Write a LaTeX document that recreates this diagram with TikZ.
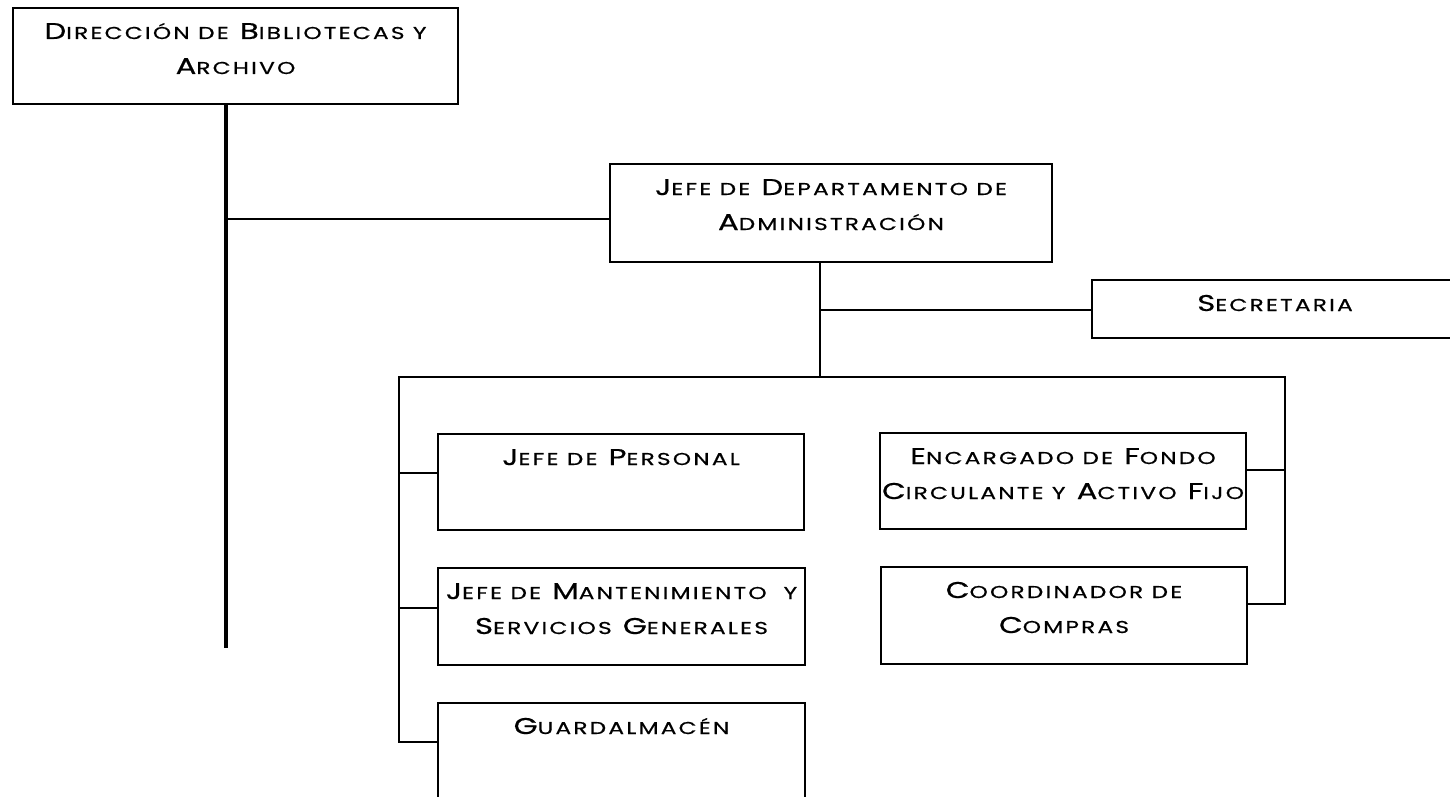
\documentclass[tikz,border=0pt]{standalone}
\usepackage{fontspec}
\setmainfont{Poppins}[FakeStretch=1.35,LetterSpace=13,FakeBold=0.6]
\newcommand\sm[1]{{\fontsize{8.6pt}{10pt}\selectfont #1}}
\newcommand\bxt[3]{\parbox[c][#2][t]{#1}{\centering\baselineskip=17.5pt\lineskiplimit=-100pt\rule{0pt}{15.5pt}#3}}
\begin{document}
\begin{tikzpicture}[x=0.5pt,y=-0.5pt,
 box/.style={draw, line width=1pt, rectangle, inner sep=0pt, anchor=north west, font=\fontsize{11.4pt}{13pt}\selectfont},
 conn/.style={line width=1pt, line join=miter},
 trunk/.style={line width=2.2pt}]
\useasboundingbox (0,0) rectangle (1450,797);
\clip (0,0) rectangle (1450,797);
\node[box] (dir) at (12,7) {\bxt{222.5pt}{48pt}{D\sm{IRECCIÓN DE} B\sm{IBLIOTECAS Y}\\A\sm{RCHIVO}}};
\node[box] (jda) at (609,163) {\bxt{221pt}{49pt}{J\sm{EFE DE} D\sm{EPARTAMENTO DE}\\A\sm{DMINISTRACIÓN}}};
\node[box] (sec) at (1091,279) {\bxt{183pt}{29pt}{S\sm{ECRETARIA}}};
\node[box] (per) at (437,433) {\bxt{183pt}{48pt}{J\sm{EFE DE} P\sm{ERSONAL}}};
\node[box] (man) at (437,567) {\bxt{183.5pt}{48.5pt}{J\sm{EFE DE} M\sm{ANTENIMIENTO}\hspace{8.5pt}\sm{Y}\\S\sm{ERVICIOS} G\sm{ENERALES}}};
\node[box] (gua) at (437,702) {\bxt{183.5pt}{49pt}{G\sm{UARDALMACÉN}}};
\node[box] (enc) at (879,432) {\bxt{183pt}{48pt}{E\sm{NCARGADO DE} F\sm{ONDO}\\C\sm{IRCULANTE Y} A\sm{CTIVO} F\sm{IJO}}};
\node[box] (coo) at (880,566) {\bxt{183pt}{48.5pt}{C\sm{OORDINADOR DE}\\C\sm{OMPRAS}}};
% connectors
\coordinate (tb) at (226,648);
\draw[trunk] (tb |- dir.south) -- (tb);
\coordinate (j1) at (226,219);
\draw[conn] (j1) -- (j1 -| jda.west);
\coordinate (d1) at (820,377);
\draw[conn] (d1 |- jda.south) -- (d1);
\coordinate (s1) at (820,310);
\draw[conn] (s1) -- (s1 -| sec.west);
\coordinate (bl) at (399,377);
\coordinate (br) at (1285,377);
\coordinate (l1) at (399,473);
\coordinate (l2) at (399,608);
\coordinate (l3) at (399,742);
\coordinate (r1) at (1285,470);
\coordinate (r2) at (1285,604);
\draw[conn] (gua.west |- l3) -- (l3) -- (bl) -- (br) -- (r2) -- (coo.east |- r2);
\draw[conn] (l1) -- (l1 -| per.west);
\draw[conn] (l2) -- (l2 -| man.west);
\draw[conn] (r1) -- (r1 -| enc.east);
\end{tikzpicture}
\end{document}
